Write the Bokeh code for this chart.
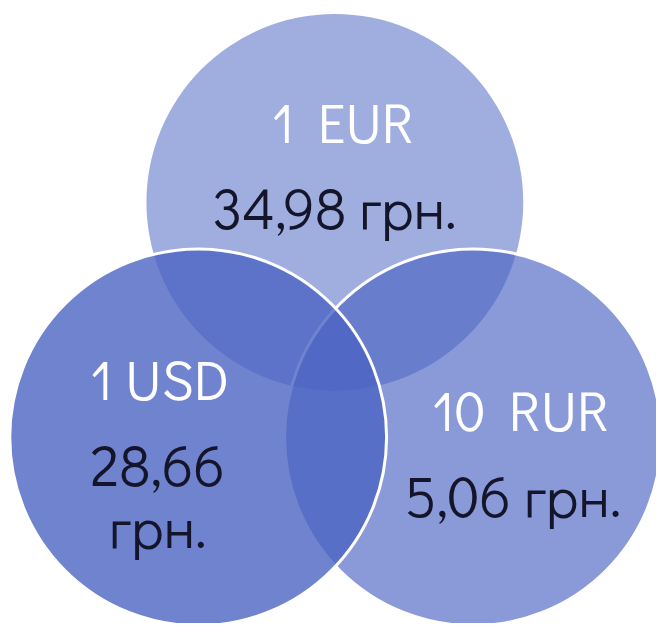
from bokeh.plotting import figure
from bokeh.models import Range1d, ColumnDataSource
from bokeh.core.properties import value
from bokeh.embed import file_html
from bokeh.resources import INLINE

# ---- data ----
currencies = ["1 EUR", "10 RUR", "1 USD"]
rates = ["34,98 грн.", "5,06 грн.", "28,66\nгрн."]

# ---- layout / style (reference pixel space 672 x 639) ----
cx = [342.5, 484, 202.5]
cy = [207, 448, 448]
radius = 193
alphas = [0.53, 0.65, 0.80]
outline = [None, "white", "white"]
base_color = "#4B64C3"

title_x = [345, 527, 163]
title_y = [124, 419, 388]
rate_x = [342, 525, 161]
rate_y = [211, 507, 477]
line_gap = 61

W, H = 656, 623
p = figure(width=W, height=H, output_backend="svg", toolbar_location=None,
           x_range=Range1d(0, 672), y_range=Range1d(639, 0),
           min_border=0, outline_line_color=None)
p.axis.visible = False
p.grid.visible = False
p.background_fill_color = "white"
p.border_fill_color = "white"

for i in range(3):
    p.circle(x=[cx[i]], y=[cy[i]], radius=radius, radius_dimension="x",
             fill_color=base_color, fill_alpha=alphas[i],
             line_color=outline[i], line_width=3 if outline[i] else 0,
             line_alpha=1.0 if outline[i] else 0)

font = value("Didact Gothic")
src_t = ColumnDataSource(dict(x=title_x, y=title_y, t=currencies))
p.text(x="x", y="y", text="t", source=src_t, text_font=font,
       text_font_size="55px", text_color="white",
       text_align="center", text_baseline="alphabetic")

rx, ry, rt = [], [], []
for i, r in enumerate(rates):
    for j, line in enumerate(r.split("\n")):
        rx.append(rate_x[i])
        ry.append(rate_y[i] + j * line_gap)
        rt.append(line)
src_r = ColumnDataSource(dict(x=rx, y=ry, t=rt))
p.text(x="x", y="y", text="t", source=src_r, text_font=font,
       text_font_size="57px", text_color="#14142a",
       text_align="center", text_baseline="alphabetic")

open("out.html", "w").write(file_html(p, INLINE))
